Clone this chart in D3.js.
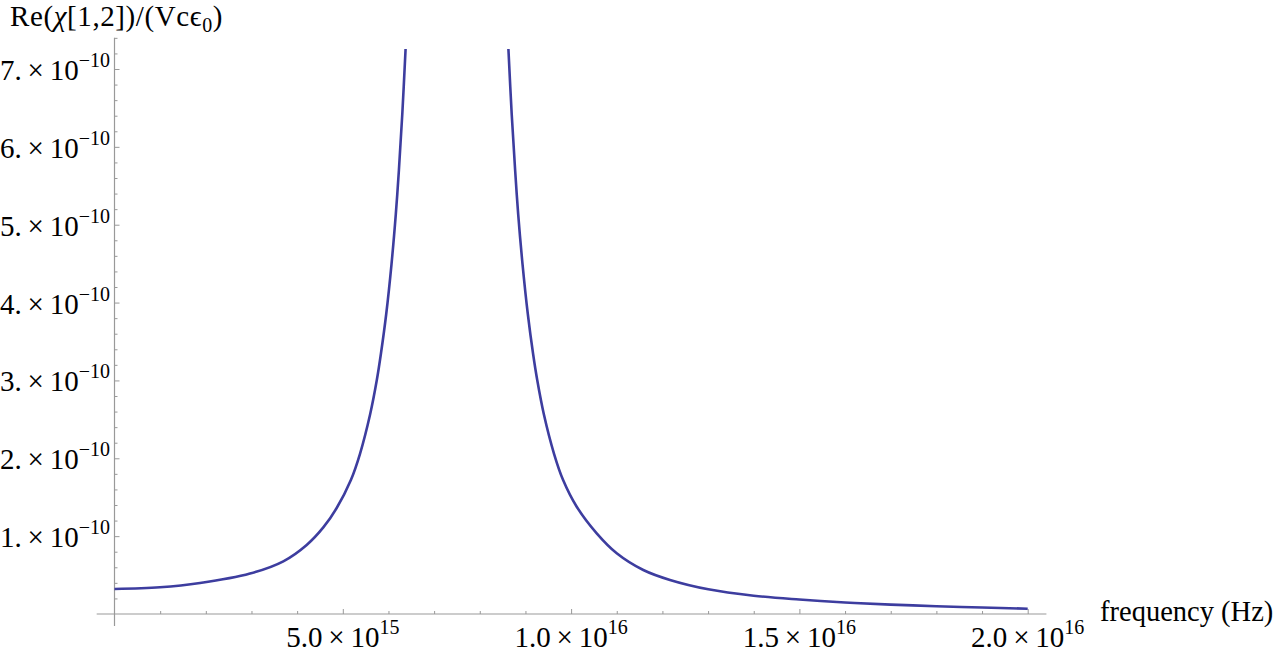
<!DOCTYPE html>
<html>
<head>
<meta charset="utf-8">
<script src="https://cdn.jsdelivr.net/npm/d3@7"></script>
<style>
  body { margin: 0; background: #fff; }
  text { font-family: "Liberation Serif", "Times New Roman", serif; fill: #000; }
</style>
</head>
<body>
<div id="chart"></div>
<script>
// curve (frequency in Hz, value in units of Vc eps0)
const freqLeft = [0, 0.996e15, 1.873e15, 2.968e15, 3.697e15, 4.209e15, 4.573e15, 4.866e15, 5.177e15, 5.375e15,
                  5.600e15, 5.745e15, 5.834e15, 5.951e15, 6.067e15, 6.161e15, 6.229e15, 6.303e15, 6.375e15];
const chiLeft  = [0.321e-10, 0.343e-10, 0.398e-10, 0.520e-10, 0.677e-10, 0.887e-10, 1.112e-10, 1.361e-10, 1.721e-10, 2.055e-10,
                  2.569e-10, 3.005e-10, 3.339e-10, 3.853e-10, 4.495e-10, 5.137e-10, 5.703e-10, 6.422e-10, 7.257e-10];
const freqRight = [8.627e15, 8.699e15, 8.774e15, 8.841e15, 8.936e15, 9.052e15, 9.168e15, 9.258e15, 9.402e15, 9.628e15,
                   9.825e15, 10.123e15, 10.561e15, 10.999e15, 11.581e15, 12.166e15, 13.005e15, 13.999e15, 14.998e15,
                   15.999e15, 17.0e15, 17.998e15, 19.0e15, 20.0e15];
const chiRight  = [7.257e-10, 6.422e-10, 5.703e-10, 5.137e-10, 4.495e-10, 3.853e-10, 3.339e-10, 3.005e-10, 2.569e-10, 2.055e-10,
                   1.721e-10, 1.378e-10, 1.036e-10, 0.780e-10, 0.565e-10, 0.437e-10, 0.317e-10, 0.235e-10, 0.186e-10,
                   0.148e-10, 0.121e-10, 0.100e-10, 0.083e-10, 0.068e-10];

const xTickValues = [5e15, 1e16, 1.5e16, 2e16];
const xTickMant = ["5.0", "1.0", "1.5", "2.0"];
const xTickExp = ["15", "16", "16", "16"];
const yTickValues = [1e-10, 2e-10, 3e-10, 4e-10, 5e-10, 6e-10, 7e-10];
const yTickMant = ["1.", "2.", "3.", "4.", "5.", "6.", "7."];
const yTickExp = "\u221210";

const W = 1274, H = 652;
const svg = d3.select('#chart').append('svg')
    .attr('width', W).attr('height', H);

const x = d3.scaleLinear().domain([0, 2e16]).range([114.5, 1027.7]);
const y = d3.scaleLinear().domain([0, 7e-10]).range([614, 69]);
const xLo = -0.39e15, xHi = 2.041e16;
const yLo = -0.154e-10, yHi = 7.4e-10;

const axisColor = '#999';

// x axis: minor + major ticks pointing up
const xMinor = d3.range(1e15, 2.05e16, 1e15).filter(v => Math.round(v / 1e15) % 5 !== 0);
const gx = svg.append('g').attr('transform', `translate(0,${y(0)})`);
gx.append('line').attr('x1', x(xLo)).attr('x2', x(xHi)).attr('stroke', axisColor).attr('stroke-width', 1.2);
gx.call(g => g.append('g').call(d3.axisBottom(x).tickValues(xMinor).tickSize(-3).tickFormat('')))
  .call(g => g.append('g').call(d3.axisBottom(x).tickValues(xTickValues).tickSize(-5).tickFormat('')));
gx.selectAll('.domain').remove();
gx.selectAll('.tick line').attr('stroke', axisColor);

// y axis: minor + major ticks pointing right
const yMinor = d3.range(1, 38).map(i => i * 0.2e-10).filter((v, i) => (i + 1) % 5 !== 0);
const gy = svg.append('g').attr('transform', `translate(${x(0)},0)`);
gy.append('line').attr('y1', y(yLo)).attr('y2', y(yHi)).attr('stroke', axisColor).attr('stroke-width', 1.2);
gy.call(g => g.append('g').call(d3.axisLeft(y).tickValues(yMinor).tickSize(-3).tickFormat('')))
  .call(g => g.append('g').call(d3.axisLeft(y).tickValues(yTickValues).tickSize(-5).tickFormat('')));
gy.selectAll('.domain').remove();
gy.selectAll('.tick line').attr('stroke', axisColor);

// tick labels with superscripts
const fs = 29;
xTickValues.forEach((v, i) => {
  const t = svg.append('text')
      .attr('x', x(v)).attr('y', 647)
      .attr('text-anchor', 'middle')
      .style('font-size', fs + 'px');
  t.append('tspan').text(xTickMant[i] + '\u2009\u00d7\u200910');
  t.append('tspan').attr('dy', -13).style('font-size', '20px').text(xTickExp[i]);
});
yTickValues.forEach((v, i) => {
  const t = svg.append('text')
      .attr('x', 110).attr('y', y(v) + 11)
      .attr('text-anchor', 'end')
      .style('font-size', fs + 'px');
  t.append('tspan').text(yTickMant[i] + '\u2009\u00d7\u200910');
  t.append('tspan').attr('dy', -13).style('font-size', '20px').text(yTickExp);
});

// axis labels
const yl = svg.append('text').attr('x', 10).attr('y', 26).style('font-size', '29px').style('letter-spacing', '0.6px');
yl.append('tspan').text('Re(');
yl.append('tspan').style('font-style', 'italic').text('\u03c7');
yl.append('tspan').text('[1,2])/(Vc\u03f5');
yl.append('tspan').attr('dy', 6).style('font-size', '20px').text('0');
yl.append('tspan').attr('dy', -6).text(')');

svg.append('text').attr('x', 1100).attr('y', 621).style('font-size', '28.5px').text('frequency (Hz)');

// curve, drawn as two branches clipped at the top of the plot range
const line = d3.line().x(d => x(d[0])).y(d => y(d[1])).curve(d3.curveCatmullRom.alpha(0.5));
[[freqLeft, chiLeft], [freqRight, chiRight]].forEach(([f, c]) => {
  svg.append('path')
    .datum(f.map((v, i) => [v, c[i]]))
    .attr('d', line)
    .attr('fill', 'none')
    .attr('stroke', '#3d3d9f')
    .attr('stroke-width', 2.6);
});
</script>
</body>
</html>
